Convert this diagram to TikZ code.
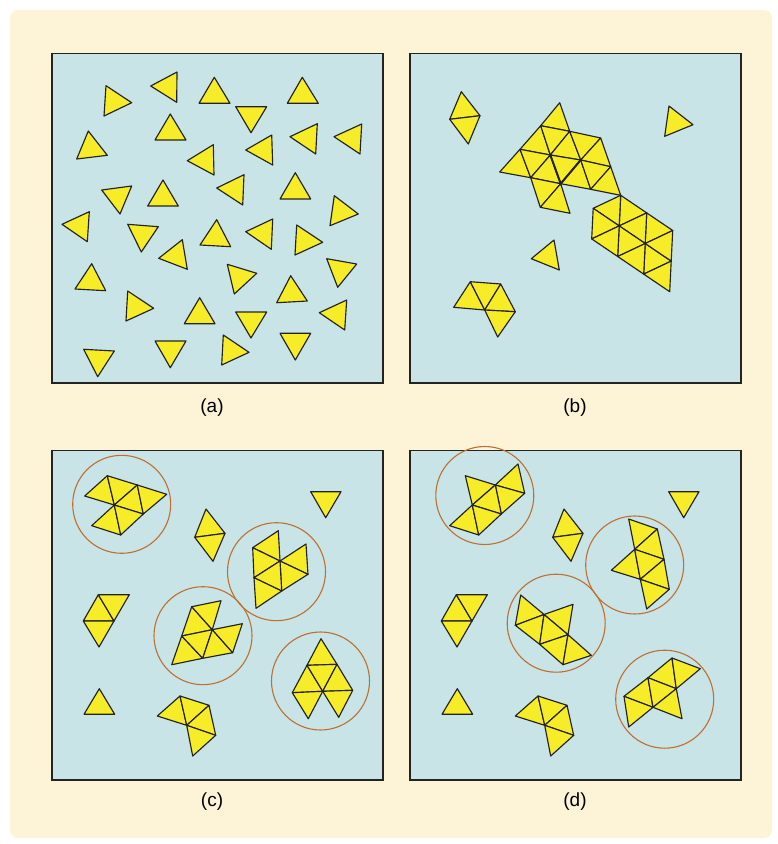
\documentclass[tikz,border=0pt]{standalone}
\usepackage{fontspec}
\setmainfont{Liberation Sans}
\definecolor{cream}{RGB}{253,243,214}
\definecolor{panelblue}{RGB}{200,228,230}
\definecolor{triyellow}{RGB}{247,236,40}
\definecolor{ringbrown}{RGB}{190,112,50}
\definecolor{edgedark}{RGB}{35,35,35}
\tikzset{
  tri/.style={fill=triyellow,draw=edgedark,line width=1.15pt,line join=round},
  panel/.style={fill=panelblue,draw=edgedark,line width=1.3pt},
  ring/.style={draw=ringbrown,line width=1.1pt},
  seam/.style={draw=edgedark,line width=2pt,line cap=round},
  lab/.style={font=\fontsize{19}{22}\selectfont,text=black}
}
\newcommand{\tr}[3]{\draw[tri] #1 -- #2 -- #3 -- cycle;}
\begin{document}
\begin{tikzpicture}[x=1pt,y=-1pt]
\useasboundingbox (0,0) rectangle (778,844);
\fill[white] (0,0) rectangle (778,844);
\fill[cream,rounded corners=8pt] (10,10) rectangle (772,838);
% panels
\draw[panel] (52,53.5) rectangle (383,383);
\draw[panel] (410,53.5) rectangle (741,383);
\draw[panel] (52,450.5) rectangle (383,780);
\draw[panel] (410,450.5) rectangle (741,780);
% labels
\node[lab] (la) at (212,408) {(a)};
\node[lab] (lb) at (575,408) {(b)};
\node[lab] (lc) at (212,802) {(c)};
\node[lab] (ld) at (575,802) {(d)};
% ---------- panel (a)
\tr{(106,85.7)}{(131.7,102.7)}{(104,116)}
\tr{(150.7,86)}{(177,72)}{(176.7,102.3)}
\tr{(199,103.3)}{(214.3,77.3)}{(230,103.3)}
\tr{(287.3,103.3)}{(302.3,77.3)}{(318.3,103.3)}
\tr{(235.7,106.7)}{(266.7,106.7)}{(251,132.7)}
\tr{(155,140)}{(170.3,114)}{(186,140)}
\tr{(76.7,159)}{(88.3,131)}{(107.3,155.3)}
\tr{(187.3,160.7)}{(213.3,144.7)}{(214,175)}
\tr{(245.7,150)}{(271.7,135)}{(272.7,165)}
\tr{(290,136.7)}{(317.3,123.7)}{(315.7,154)}
\tr{(334,136.7)}{(361.7,124)}{(360,154)}
\tr{(216.7,188)}{(244,174.7)}{(242.7,205)}
\tr{(101.7,190)}{(131.7,186)}{(120,214)}
\tr{(147.7,206)}{(163,180)}{(178.3,206)}
\tr{(280,199)}{(295.3,172.7)}{(310.7,199)}
\tr{(334.3,195.7)}{(358.3,214)}{(330,225.7)}
\tr{(89.3,211.7)}{(62,224.3)}{(87.3,241.7)}
\tr{(127.7,224.3)}{(158.3,226.7)}{(141.3,252)}
\tr{(200,245)}{(216.7,219.7)}{(230.7,246.7)}
\tr{(245.7,231.7)}{(272.7,219)}{(271.3,249.3)}
\tr{(296.7,225)}{(322.7,242.3)}{(295,255)}
\tr{(158.7,258.3)}{(182.3,239.7)}{(187.3,269.3)}
\tr{(75,289)}{(91.7,263.7)}{(105.7,290.7)}
\tr{(227.3,264.3)}{(256.7,273.3)}{(234.3,294)}
\tr{(326.7,258.7)}{(356.7,264)}{(337.7,287.3)}
\tr{(127.7,291)}{(153.7,308.3)}{(126,321)}
\tr{(184.3,323.7)}{(199.7,297.7)}{(215,323.7)}
\tr{(276.7,302.7)}{(290.7,275.7)}{(307.3,301)}
\tr{(235.7,312)}{(266.7,312)}{(251,338)}
\tr{(319.3,312.7)}{(346.7,300)}{(344.7,330)}
\tr{(83.7,349.3)}{(114.3,351)}{(97.7,376.7)}
\tr{(155,341)}{(186,341)}{(170.3,367.7)}
\tr{(223.3,335)}{(249,352.3)}{(221.7,365)}
\tr{(280,333.3)}{(310.7,333.3)}{(295.3,360)}
% ---------- panel (b)
\tr{(461.3,91.7)}{(480,115.7)}{(449.7,119.3)}
\tr{(449.7,119.3)}{(480,115.7)}{(468.3,144)}
\tr{(669,106)}{(693,124.7)}{(664.7,136.3)}
% big cluster
\tr{(559.7,102.7)}{(540.7,125.7)}{(569.7,131.3)}
\tr{(540.7,125.7)}{(520,149.3)}{(550.3,155)}
\tr{(540.7,125.7)}{(550.3,155)}{(569.7,131.3)}
\tr{(569.7,131.3)}{(550.3,155)}{(580.7,160)}
\tr{(569.7,131.3)}{(580.7,160)}{(600.7,138)}
\tr{(600.7,138)}{(580.7,160)}{(610.7,166.7)}
\tr{(520,149.3)}{(499.7,172)}{(530.7,177.7)}
\tr{(520,149.3)}{(530.7,177.7)}{(550.3,155)}
\tr{(550.3,155)}{(530.7,177.7)}{(560.7,183.7)}
\tr{(550.3,155)}{(560.7,183.7)}{(580.7,160)}
\tr{(580.7,160)}{(560.7,183.7)}{(590.7,189.3)}
\tr{(580.7,160)}{(590.7,189.3)}{(610.7,166.7)}
\tr{(610.7,166.7)}{(590.7,189.3)}{(620.7,195.3)}
\tr{(530.7,177.7)}{(540.3,207.3)}{(560.7,183.7)}
\tr{(560.7,183.7)}{(540.3,207.3)}{(570,213.3)}
\draw[seam] (550.3,155) -- (560.7,183.7) -- (580.7,160);
% second cluster
\tr{(620.7,195.3)}{(646.7,212.9)}{(619.2,225.9)}
\tr{(620.7,195.3)}{(593.2,208.3)}{(619.2,225.9)}
\tr{(646.7,212.9)}{(672.7,230.5)}{(645.2,243.5)}
\tr{(646.7,212.9)}{(619.2,225.9)}{(645.2,243.5)}
\tr{(593.2,208.3)}{(619.2,225.9)}{(591.7,238.9)}
\tr{(619.2,225.9)}{(645.2,243.5)}{(617.7,256.5)}
\tr{(619.2,225.9)}{(591.7,238.9)}{(617.7,256.5)}
\tr{(645.2,243.5)}{(671.2,261.1)}{(643.7,274.1)}
\tr{(645.2,243.5)}{(617.7,256.5)}{(643.7,274.1)}
\tr{(672.7,230.5)}{(645.2,243.5)}{(671.2,261.1)}
\tr{(671.2,261.1)}{(643.7,274.1)}{(669.7,291.7)}
% lone
\tr{(531.3,258.7)}{(554,240)}{(559.3,270)}
% bottom-left cluster
\tr{(470.3,281.7)}{(453.7,307.3)}{(484.7,310)}
\tr{(470.3,281.7)}{(484.7,310)}{(500.7,284)}
\tr{(500.7,284)}{(484.7,310)}{(515.3,311.7)}
\tr{(484.7,310)}{(497.7,337)}{(515.3,311.7)}
% ---------- panel (c)
\draw[ring] (121.7,504.3) circle (49);
\draw[ring] (276.5,571.7) circle (49);
\draw[ring] (203,635.7) circle (49);
\draw[ring] (320.5,681) circle (49);
% cluster 1
\tr{(84.7,496)}{(107.3,475.7)}{(114.3,505)}
\tr{(107.3,475.7)}{(137.3,485)}{(114.3,505)}
\tr{(114.3,505)}{(137.3,485)}{(143.3,514)}
\tr{(137.3,485)}{(166.7,494.3)}{(143.3,514)}
\tr{(91.7,525.7)}{(114.3,505)}{(120.7,535)}
\tr{(114.3,505)}{(143.3,514)}{(120.7,535)}
% diamond
\tr{(206,509)}{(225,533.3)}{(194.7,537.3)}
\tr{(194.7,537.3)}{(225,533.3)}{(213,561.3)}
% single
\tr{(310.7,491.7)}{(341,491.7)}{(325.7,517.7)}
% cluster 2
\tr{(252.7,547.7)}{(278.3,530.7)}{(280,561)}
\tr{(252.7,547.7)}{(280,561)}{(254,577.7)}
\tr{(280,561)}{(306,544)}{(308,574.3)}
\tr{(280,561)}{(308,574.3)}{(281.7,591)}
\tr{(254,577.7)}{(280,561)}{(281.7,591)}
\tr{(254,577.7)}{(281.7,591)}{(256,608.3)}
% cluster 3
\tr{(191.7,606.7)}{(181.7,636)}{(212.3,629.7)}
\tr{(191.7,606.7)}{(221,600.7)}{(212.3,629.7)}
\tr{(181.7,636)}{(171.7,664.7)}{(202.7,658.3)}
\tr{(181.7,636)}{(202.7,658.3)}{(212.3,629.7)}
\tr{(212.3,629.7)}{(202.7,658.3)}{(232.7,652.7)}
\tr{(212.3,629.7)}{(232.7,652.7)}{(242.3,623.7)}
% small left cluster
\tr{(98.3,594.7)}{(83.3,621)}{(114,621)}
\tr{(98.3,594.7)}{(129.3,594.7)}{(114,621)}
\tr{(83.3,621)}{(114,621)}{(99,647)}
% single
\tr{(84,714.3)}{(99.3,688.7)}{(114.7,714.3)}
% lower cluster
\tr{(157.3,716)}{(180,696)}{(186.7,725.3)}
\tr{(180,696)}{(209,705.3)}{(186.7,725.3)}
\tr{(186.7,725.3)}{(209,705.3)}{(215.7,735.3)}
\tr{(186.7,725.3)}{(215.7,735.3)}{(192.7,756)}
% cluster 4
\tr{(321,638.7)}{(307,665.3)}{(337,664.3)}
\tr{(307,665.3)}{(292.3,692.7)}{(322.7,691.3)}
\tr{(307,665.3)}{(322.7,691.3)}{(337,664.3)}
\tr{(337,664.3)}{(322.7,691.3)}{(352.7,690.3)}
\tr{(292.3,692.7)}{(322.7,691.3)}{(308.3,718.7)}
\tr{(322.7,691.3)}{(352.7,690.3)}{(338.7,717.3)}
% ---------- panel (d)
\draw[ring] (484.8,495.5) circle (49);
\draw[ring] (634.7,565) circle (49);
\draw[ring] (556.2,623.2) circle (49);
\draw[ring] (664.7,699.2) circle (49);
% cluster 1
\tr{(465.3,475.7)}{(495.3,485)}{(472.3,505)}
\tr{(495.3,485)}{(518,464)}{(524.7,493.3)}
\tr{(495.3,485)}{(524.7,493.3)}{(501.3,514)}
\tr{(472.3,505)}{(495.3,485)}{(501.3,514)}
\tr{(449.7,525.7)}{(472.3,505)}{(478.7,535)}
\tr{(472.3,505)}{(501.3,514)}{(478.7,535)}
% diamond
\tr{(564,509)}{(583,533.3)}{(552.7,537.3)}
\tr{(552.7,537.3)}{(583,533.3)}{(571,561.3)}
% single
\tr{(668.7,491.7)}{(699,491.7)}{(683.7,517.7)}
% cluster 2
\tr{(628.7,519)}{(657.3,529)}{(634.7,549.3)}
\tr{(634.7,549.3)}{(657.3,529)}{(664,559.3)}
\tr{(611.3,570.3)}{(634.7,549.3)}{(640.3,579.3)}
\tr{(634.7,549.3)}{(664,559.3)}{(640.3,579.3)}
\tr{(640.3,579.3)}{(664,559.3)}{(669.3,589.3)}
\tr{(640.3,579.3)}{(669.3,589.3)}{(646.7,609)}
% cluster 3
\tr{(520.7,595)}{(515.3,625.3)}{(544,614.5)}
\tr{(544,614.5)}{(573,604.3)}{(568,634.7)}
\tr{(515.3,625.3)}{(539.7,644.3)}{(544,614.5)}
\tr{(544,614.5)}{(539.7,644.3)}{(568,634.7)}
\tr{(539.7,644.3)}{(563,664.7)}{(568,634.7)}
\tr{(568,634.7)}{(563,664.7)}{(591.3,655.3)}
% small left cluster
\tr{(456.3,594.7)}{(441.3,621)}{(472,621)}
\tr{(456.3,594.7)}{(487.3,594.7)}{(472,621)}
\tr{(441.3,621)}{(472,621)}{(457,647)}
% single
\tr{(442,714.3)}{(457.3,688.7)}{(472.7,714.3)}
% lower cluster
\tr{(515.3,716)}{(538,696)}{(544.7,725.3)}
\tr{(538,696)}{(567,705.3)}{(544.7,725.3)}
\tr{(544.7,725.3)}{(567,705.3)}{(573.7,735.3)}
\tr{(544.7,725.3)}{(573.7,735.3)}{(550.7,756)}
% cluster 4
\tr{(648,677.7)}{(672,658)}{(676.3,688.7)}
\tr{(672,658)}{(700.3,668.7)}{(676.3,688.7)}
\tr{(624,696.3)}{(648,677.7)}{(653,707.3)}
\tr{(648,677.7)}{(676.3,688.7)}{(653,707.3)}
\tr{(624,696.3)}{(653,707.3)}{(628.7,727)}
\tr{(653,707.3)}{(676.3,688.7)}{(682,718.7)}
\end{tikzpicture}
\end{document}
